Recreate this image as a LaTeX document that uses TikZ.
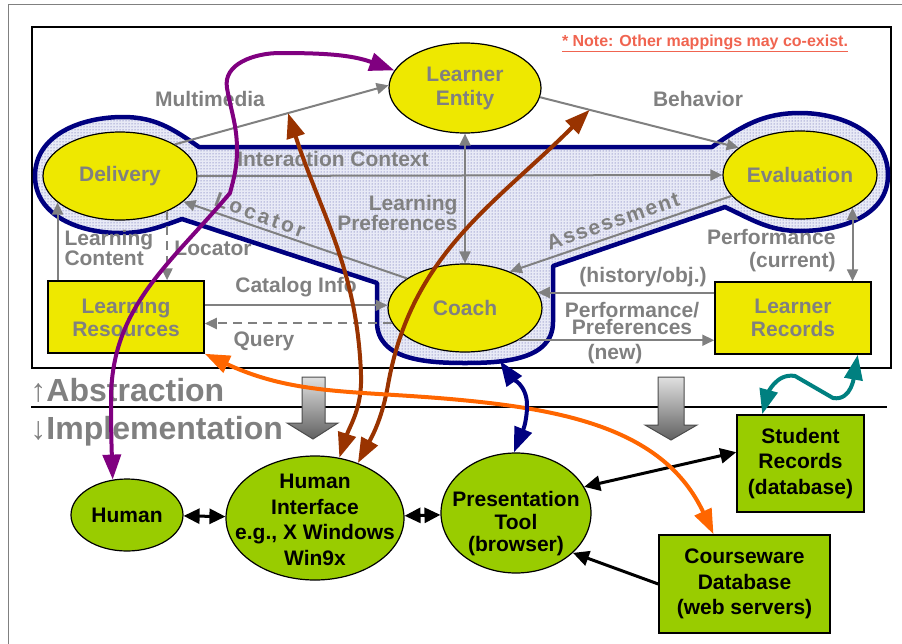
\documentclass[tikz,border=0pt]{standalone}
\usepackage{fontspec}
\setmainfont{Liberation Sans}
\usetikzlibrary{arrows.meta, patterns, shapes.geometric}

\definecolor{lomyellow}{RGB}{238,232,0}
\definecolor{implgreen}{RGB}{153,204,0}
\definecolor{labelgray}{RGB}{128,128,128}
\definecolor{ringnavy}{RGB}{0,0,128}
\definecolor{ringfill}{RGB}{232,234,246}
\definecolor{ringdot}{RGB}{70,70,160}
\definecolor{notered}{RGB}{240,100,80}
\definecolor{mapbrown}{RGB}{153,51,0}
\definecolor{mappurple}{RGB}{128,0,128}
\definecolor{maporange}{RGB}{255,102,0}
\definecolor{mapteal}{RGB}{0,128,128}

\begin{document}
\begin{tikzpicture}[x=1pt, y=1pt, line width=1pt,
        absnode/.style={ellipse, draw=black, line width=1.2pt, fill=lomyellow, inner sep=0pt,
            text=labelgray, align=center, font=\fontsize{21}{24}\selectfont\bfseries},
        absbox/.style={rectangle, draw=black, line width=1.5pt, fill=lomyellow, inner sep=0pt,
            text=labelgray, align=center, font=\fontsize{21}{23}\selectfont\bfseries},
        implnode/.style={ellipse, draw=black, line width=1.2pt, fill=implgreen, inner sep=0pt,
            align=center, font=\fontsize{21}{25.5}\selectfont\bfseries},
        implbox/.style={rectangle, draw=black, line width=1.5pt, fill=implgreen, inner sep=0pt,
            align=center, font=\fontsize{21}{25.5}\selectfont\bfseries},
        impllbl/.style={inner sep=0pt, align=center, font=\fontsize{21}{25.5}\selectfont\bfseries},
        flowlbl/.style={inner sep=0pt, text=labelgray, align=center, font=\fontsize{21}{20}\selectfont\bfseries},
        flow/.style={draw=labelgray, line width=2pt, >={Triangle[length=12pt,width=11pt]}, ->},
        mapping/.style={line width=4pt, >={Triangle[length=25pt,width=18pt]}, <->},
        link/.style={line width=3pt, >={Triangle[length=16pt,width=15pt]}, <->},
        ring/.style={draw=ringnavy, line width=4.5pt, line join=round, preaction={fill=ringfill},
            pattern=dots, pattern color=ringdot},
        levelarrow/.style={top color=black!12, bottom color=black!62, draw=black!70, line width=1pt},
    ]
        \useasboundingbox (0,0) rectangle (902,-643);

        % Frames
        \draw[labelgray] (8,-4) rectangle (912,-655);
        \draw[line width=1.5pt] (32,-27) rectangle (891,-368);
        \node[text=notered, inner sep=0pt, font=\fontsize{16}{18}\selectfont\bfseries] (note) at (705,-43)
            {\underline{* Note: Other mappings may co-exist.}};

        % Coach / Delivery / Evaluation region
        \draw[ring] (199,-147) -- (712,-147) to[out=35,in=180] (800,-113) to[out=0,in=90] (888,-175)
            to[out=-90,in=0] (800,-231) to[out=180,in=-25] (725,-207) -- (553,-266) -- (553,-322)
            to[out=-90,in=0] (465,-363) to[out=180,in=-90] (377,-322) -- (377,-283) -- (182,-219)
            to[out=200,in=0] (120,-233) to[out=180,in=-90] (35,-176) to[out=90,in=180] (123,-117)
            to[out=0,in=145] (199,-147) -- cycle;
        \coordinate (ringbot) at (500,-361);

        % Abstraction level
        \node[absnode, minimum width=152pt, minimum height=90pt] (entity) at (465,-88) {Learner\\Entity};
        \node[absnode, minimum width=154pt, minimum height=88pt] (deliv) at (120,-176) {Delivery};
        \node[absnode, minimum width=154pt, minimum height=88pt] (eval) at (800,-175) {Evaluation};
        \node[absnode, minimum width=154pt, minimum height=88pt] (coach) at (465,-308) {Coach};
        \node[absbox, minimum width=156pt, minimum height=72pt] (lres) at (126,-317) {Learning\\Resources};
        \node[absbox, minimum width=156pt, minimum height=72pt] (lrec) at (793,-318) {Learner\\Records};

        % Flows
        \draw[flow] (deliv.30) -- coordinate[pos=0.53] (mmpt) (entity.178);
        \node[flowlbl] (mmlbl) at (210,-99) {Multimedia};
        \draw[flow] (entity.-7) -- coordinate[pos=0.25] (bhpt) (eval.156);
        \node[flowlbl] (bhlbl) at (698,-99) {Behavior};
        \draw[flow] (deliv.east) -- (eval.west);
        \node[flowlbl] (iclbl) at (333,-159) {Interaction Context};
        \draw[flow, <->] (entity.south) -- (coach.north);
        \node[flowlbl, anchor=east, align=right] (lplbl) at (458,-213) {Learning\\Preferences};
        \draw[flow] (coach.153) -- (deliv.-22);
        \node[flowlbl, rotate=-20] (loclbl) at (260,-215) {\addfontfeature{LetterSpace=14}Locator};
        \draw[flow] (eval.-163) -- (coach.39);
        \node[flowlbl, rotate=19] (aslbl) at (613,-221) {\addfontfeature{LetterSpace=8}Assessment};
        \draw[flow] (deliv.-157 |- lres.north) -- (deliv.-157);
        \node[flowlbl, anchor=west, align=left] (lclbl) at (64,-248) {Learning\\Content};
        \draw[flow, dash pattern=on 9pt off 6pt] (deliv.-37.5) -- (deliv.-37.5 |- lres.north);
        \node[flowlbl] (lolbl) at (213,-248) {Locator};
        \draw[flow] (coach.178 -| lres.east) -- (coach.178);
        \node[flowlbl] (catlbl) at (296,-287) {Catalog Info};
        \draw[flow, dash pattern=on 9pt off 6pt] (coach.-168) -- (coach.-168 -| lres.east);
        \node[flowlbl] (qlbl) at (264,-341) {Query};
        \draw[flow] (coach.12 -| lrec.west) -- (coach.12);
        \node[flowlbl] (hislbl) at (643,-277) {(history/obj.)};
        \draw[flow] (coach.-31) -- (coach.-31 -| lrec.west);
        \node[flowlbl, font=\fontsize{21}{17}\selectfont\bfseries] (pplbl) at (632,-318) {Performance/\\Preferences};
        \node[flowlbl] (newlbl) at (615,-354) {(new)};
        \draw[flow, <->] (eval.-32) -- (eval.-32 |- lrec.north);
        \node[flowlbl, anchor=east, align=right, font=\fontsize{21}{23}\selectfont\bfseries] (pclbl) at (836,-251) {Performance\\(current)};

        % Levels
        \draw[line width=2pt] (31,-407) -- (887,-407);
        \node[anchor=west, inner sep=0pt, text=labelgray, font=\fontsize{32}{32}\selectfont\bfseries] (abslbl) at (30,-390) {↑Abstraction};
        \node[anchor=west, inner sep=0pt, text=labelgray, font=\fontsize{32}{32}\selectfont\bfseries] (impllvl) at (30,-431) {↓Implementation};
        \shade[levelarrow] (302,-377) -- (325,-377) -- (325,-423) -- (338,-423) -- (313,-439) -- (287,-423) -- (302,-423) -- cycle;
        \shade[levelarrow] (658,-377) -- (684,-377) -- (684,-425) -- (697,-425) -- (671,-440) -- (645,-425) -- (658,-425) -- cycle;

        % Implementation level
        \node[implnode, minimum width=112pt, minimum height=72pt] (human) at (127,-515) {Human};
        \node[implnode, minimum width=178pt, minimum height=124pt] (hi) at (315,-518) {};
        \node[impllbl] (hitext) at (315,-520) {Human\\Interface\\e.g., X Windows\\Win9x};
        \node[implnode, minimum width=150pt, minimum height=120pt] (pt) at (516,-513) {};
        \node[impllbl, font=\fontsize{21}{22.5}\selectfont\bfseries] (pttext) at (516,-524) {Presentation\\Tool\\(browser)};
        \node[implbox, minimum width=127pt, minimum height=97pt] (srec) at (800.5,-463.5) {Student\\Records\\(database)};
        \node[implbox, minimum width=171pt, minimum height=98pt] (cdb) at (744.5,-584) {Courseware\\Database\\(web servers)};

        \draw[link] (human) -- (hi);
        \draw[link] (hi) -- (pt);
        \draw[link] (pt.21) -- (srec.170);
        \draw[link, ->] (cdb.west) -- (pt.-35);

        % Mappings
        \draw[mapping, mappurple] (human.112) to[out=92,in=-90] (111,-400) to[out=90,in=-130] (230,-193)
            to[out=75,in=-90] (237,-150) to[out=90,in=-80] (227,-88) to[out=100,in=180] (280,-53)
            to[out=0,in=160] (entity.166);
        \draw[mapping, mapbrown] (hi.68) to[out=72,in=-88] (361,-375) to[out=92,in=-72] (mmpt);
        \draw[mapping, mapbrown] (hi.52) to[out=62,in=-100] (388,-385) to[out=80,in=-135] (bhpt);
        \draw[mapping, maporange] (lres.south east) to[out=-25,in=175] (450,-399) to[out=-5,in=115] ([xshift=-31pt]cdb.north);
        \draw[mapping, ringnavy] (ringbot) to[out=-55,in=90] (527,-405) to[out=-90,in=68] (pt.92);
        \draw[mapping, mapteal] ([xshift=-14pt]lrec.south east) to[out=-100,in=-10] (833,-398) -- (795,-376)
            to[out=170,in=75] ([xshift=26pt]srec.north west);
    \end{tikzpicture}
\end{document}
